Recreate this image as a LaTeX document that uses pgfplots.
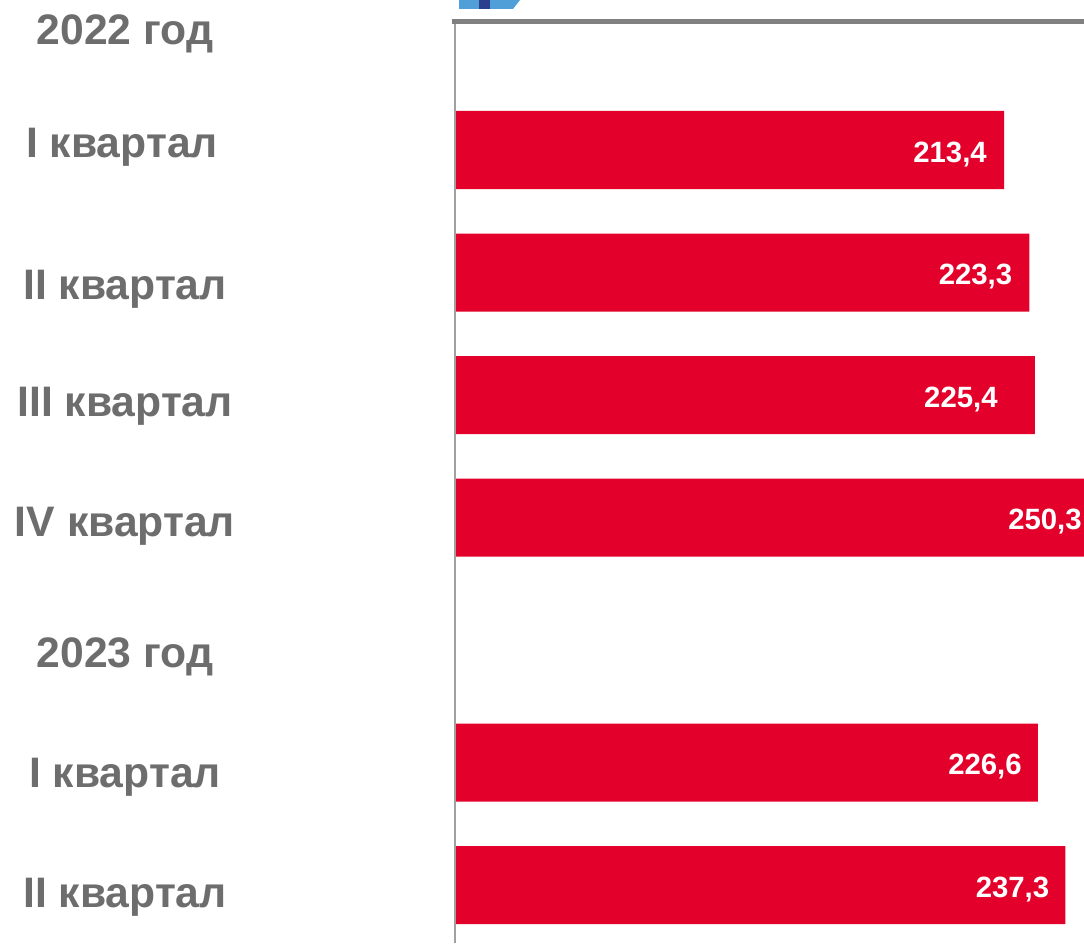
\documentclass[border=0pt]{standalone}
\usepackage{fontspec}
\setmainfont{Liberation Sans}
\usepackage{pgfplots}
\pgfplotsset{compat=1.18}
\definecolor{barred}{HTML}{E3002B}
\definecolor{labgray}{HTML}{6D6D6D}
\definecolor{topgray}{HTML}{808080}
\definecolor{leftgray}{HTML}{A0A0A0}
\definecolor{lblue}{HTML}{519FD8}
\definecolor{dblue}{HTML}{2A3F8E}
\begin{document}
\begin{tikzpicture}
\clip (0,0) rectangle (813pt,707.25pt);
% small logo fragment at the top
\fill[lblue] (344.25pt,707.25pt) -- (390pt,707.25pt) -- (384.75pt,700.5pt) -- (344.25pt,700.5pt) -- cycle;
\fill[dblue] (359.25pt,707.25pt) rectangle (367.5pt,700.5pt);
\begin{axis}[
  at={(341.25pt,0pt)}, anchor=south west,
  scale only axis, width=471.75pt, height=691.125pt,
  xmin=0, xmax=244.5, ymin=-0.049, ymax=7.473,
  y dir=reverse,
  xbar, bar width=0.637,
  axis line style={draw=none},
  ticks=none,
  clip=false,
]
\addplot[fill=barred, draw=none, bar shift=0pt] coordinates {
  (213.4,1) (223.3,2) (225.4,3) (250.3,4) (226.6,6) (237.3,7)};
\draw[leftgray, line width=1.1pt] (rel axis cs:0,0) -- (rel axis cs:0,1);
\draw[topgray, line width=3.6pt] (rel axis cs:-0.005,1) -- (rel axis cs:1.02,1);
\tikzset{vl/.style={anchor=base east, inner sep=0pt, text=white, font=\bfseries\fontsize{22}{22}\selectfont, yshift=-9pt}}
\node[vl, xshift=-12.75pt] at (axis cs:213.4,1) {213,4};
\node[vl, xshift=-12.75pt] at (axis cs:223.3,2) {223,3};
\node[vl, xshift=-27.75pt] at (axis cs:225.4,3) {225,4};
\node[vl, xshift=-12.75pt] at (axis cs:250.3,4) {250,3};
\node[vl, xshift=-12pt] at (axis cs:226.6,6) {226,6};
\node[vl, xshift=-12pt] at (axis cs:237.3,7) {237,3};
\end{axis}
\tikzset{cl/.style={anchor=base, text=labgray, font=\bfseries\fontsize{32}{32}\selectfont, inner sep=0pt}}
\node[cl] at (93.75pt,673.5pt) {2022 год};
\node[cl] at (91.5pt,588.75pt) {I квартал};
\node[cl] at (93.75pt,482.25pt) {II квартал};
\node[cl] at (93.75pt,394.5pt) {III квартал};
\node[cl] at (93.75pt,304.5pt) {IV квартал};
\node[cl] at (93.75pt,207pt) {2023 год};
\node[cl] at (93.75pt,117pt) {I квартал};
\node[cl] at (93.75pt,27pt) {II квартал};
\end{tikzpicture}
\end{document}
